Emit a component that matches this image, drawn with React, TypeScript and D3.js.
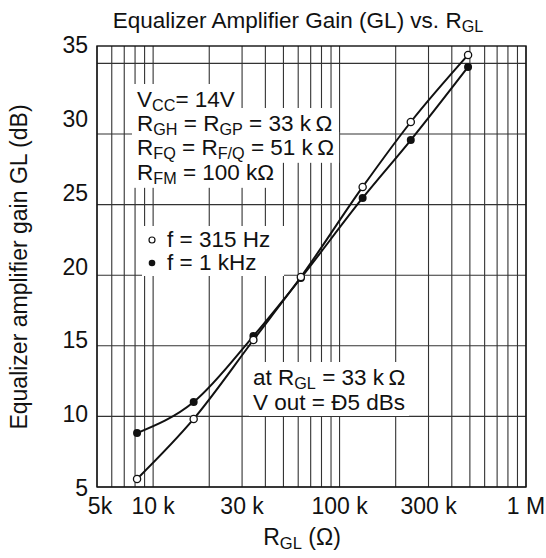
import React, { useEffect, useRef } from "react";
import * as d3 from "d3";

// ---------- data ----------
const resistance = [8200, 16500, 34500, 62000, 133000, 241000, 489000];
const gain315Hz = [5.57, 9.82, 15.41, 19.87, 26.25, 30.85, 35.6];
const gain1kHz = [8.82, 11.02, 15.69, 19.8, 25.47, 29.57, 34.75];
const yTickValues = [5, 10, 15, 20, 25, 30, 35];
const xTickValues = [5000, 10000, 30000, 100000, 300000, 1000000];
const xTickLabels = ["5k", "10 k", "30 k", "100 k", "300 k", "1 M"];

const W = 546;
const H = 558;
const FONT = "'Liberation Sans', Arial, Helvetica, sans-serif";
const AFS = 22.5; // annotation font size

type Part = { t: string; sub?: boolean };

export default function App() {
  const ref = useRef<SVGSVGElement | null>(null);

  useEffect(() => {
    const svg = d3.select(ref.current);
    svg.selectAll("*").remove();

    const left = 97, right = 526, top = 46, bottom = 487;
    const x = d3.scaleLog().domain([5000, 1000000]).range([left, right]);
    const y = d3.scaleLinear().domain([5, 35]).range([bottom, 63.4]);
    const yLab = d3.scaleLinear().domain([5, 35]).range([488, 45]);

    svg.append("rect").attr("width", W).attr("height", H).attr("fill", "#fff");

    // grid
    const grid = svg.append("g").attr("stroke", "#333").attr("stroke-width", 1.1);
    x.ticks().forEach((v) => {
      grid.append("line").attr("x1", x(v)).attr("x2", x(v)).attr("y1", top).attr("y2", bottom);
    });
    yTickValues.forEach((v) => {
      grid.append("line").attr("x1", left).attr("x2", right).attr("y1", y(v)).attr("y2", y(v));
    });

    const maskLayer = svg.append("g");
    const layer = svg.append("g");

    function drawText(
      px: number, py: number, parts: Part[], size: number,
      opts: { anchor?: string; rotate?: number; pad?: [number, number, number, number] } = {}
    ) {
      const g = layer.append("g")
        .attr("transform", `translate(${px},${py}) rotate(${opts.rotate || 0})`);
      const t = g.append("text")
        .attr("font-family", FONT)
        .attr("font-size", size)
        .attr("fill", "#111")
        .attr("text-anchor", opts.anchor || "start");
      let shifted = false;
      parts.forEach((p) => {
        const ts = t.append("tspan").text(p.t);
        if (p.sub && !shifted) {
          ts.attr("font-size", size * 0.72).attr("dy", size * 0.17);
          shifted = true;
        } else if (!p.sub && shifted) {
          ts.attr("dy", -size * 0.17);
          shifted = false;
        } else if (p.sub) {
          ts.attr("font-size", size * 0.72);
        }
      });
      if (opts.pad) {
        const b = (t.node() as SVGTextElement).getBBox();
        const [pl, pt, pr, pb] = opts.pad;
        maskLayer.append("rect")
          .attr("x", px + b.x - pl).attr("y", py + b.y - pt)
          .attr("width", b.width + pl + pr).attr("height", b.height + pt + pb)
          .attr("fill", "#fff");
      }
      return g;
    }

    // title
    drawText(298, 28, [{ t: "Equalizer Amplifier Gain (GL) vs. R" }, { t: "GL", sub: true }], 22.5, { anchor: "middle" });

    // y tick labels
    yTickValues.forEach((v) => {
      drawText(88, yLab(v) + 8, [{ t: String(v) }], 23, { anchor: "end" });
    });
    // x tick labels
    xTickValues.forEach((v, i) => {
      drawText(x(v) + (i === 0 ? 3 : 0), 514, [{ t: xTickLabels[i] }], 23, { anchor: "middle" });
    });
    // axis titles
    drawText(302, 545, [{ t: "R" }, { t: "GL", sub: true }, { t: " (Ω)" }], 23, { anchor: "middle" });
    drawText(27, 267, [{ t: "Equalizer amplifier gain GL (dB)" }], 23, { anchor: "middle", rotate: -90 });

    // condition block
    const pad: [number, number, number, number] = [5, 3, 5, 1];
    drawText(137, 107, [{ t: "V" }, { t: "CC", sub: true }, { t: "= 14V" }], AFS, { pad });
    drawText(137, 131, [{ t: "R" }, { t: "GH", sub: true }, { t: " = R" }, { t: "GP", sub: true }, { t: " = 33 k\u2009Ω" }], AFS, { pad });
    drawText(137, 155, [{ t: "R" }, { t: "FQ", sub: true }, { t: " = R" }, { t: "F/Q", sub: true }, { t: " = 51 k\u2009Ω" }], AFS, { pad });
    drawText(137, 180, [{ t: "R" }, { t: "FM", sub: true }, { t: " = 100 kΩ" }], AFS, { pad });

    // legend
    maskLayer.append("rect").attr("x", 142).attr("y", 226).attr("width", 142).attr("height", 50).attr("fill", "#fff");
    layer.append("circle").attr("cx", 152).attr("cy", 240).attr("r", 3).attr("fill", "#fff").attr("stroke", "#111").attr("stroke-width", 1.2);
    layer.append("circle").attr("cx", 152).attr("cy", 263).attr("r", 3.3).attr("fill", "#111");
    drawText(167, 247, [{ t: "f = 315 Hz" }], AFS);
    drawText(167, 270, [{ t: "f = 1 kHz" }], AFS);

    // note block
    drawText(253, 385, [{ t: "at R" }, { t: "GL", sub: true }, { t: " = 33 k\u2009Ω" }], AFS, { pad: [4, 3, 4, 1] });
    drawText(253, 410, [{ t: "V out = Ð5 dBs" }], AFS, { pad: [4, 2, 4, 1] });

    // border
    svg.append("rect").attr("x", left).attr("y", top).attr("width", right - left).attr("height", bottom - top)
      .attr("fill", "none").attr("stroke", "#111").attr("stroke-width", 1.4);

    // curves
    const line = d3.line<number>()
      .x((_, i) => x(resistance[i]))
      .y((d) => y(d))
      .curve(d3.curveMonotoneX);
    svg.append("path").attr("d", line(gain1kHz)).attr("fill", "none").attr("stroke", "#111").attr("stroke-width", 2);
    svg.append("path").attr("d", line(gain315Hz)).attr("fill", "none").attr("stroke", "#111").attr("stroke-width", 2);

    svg.append("g").selectAll("circle").data(gain1kHz).join("circle")
      .attr("cx", (_, i) => x(resistance[i])).attr("cy", (d) => y(d)).attr("r", 4).attr("fill", "#111");
    svg.append("g").selectAll("circle").data(gain315Hz).join("circle")
      .attr("cx", (_, i) => x(resistance[i])).attr("cy", (d) => y(d)).attr("r", 3.6)
      .attr("fill", "#fff").attr("stroke", "#111").attr("stroke-width", 1.3);
  }, []);

  return (
    <svg ref={ref} width={W} height={H} style={{ position: "absolute", left: 0, top: 0 }} />
  );
}
